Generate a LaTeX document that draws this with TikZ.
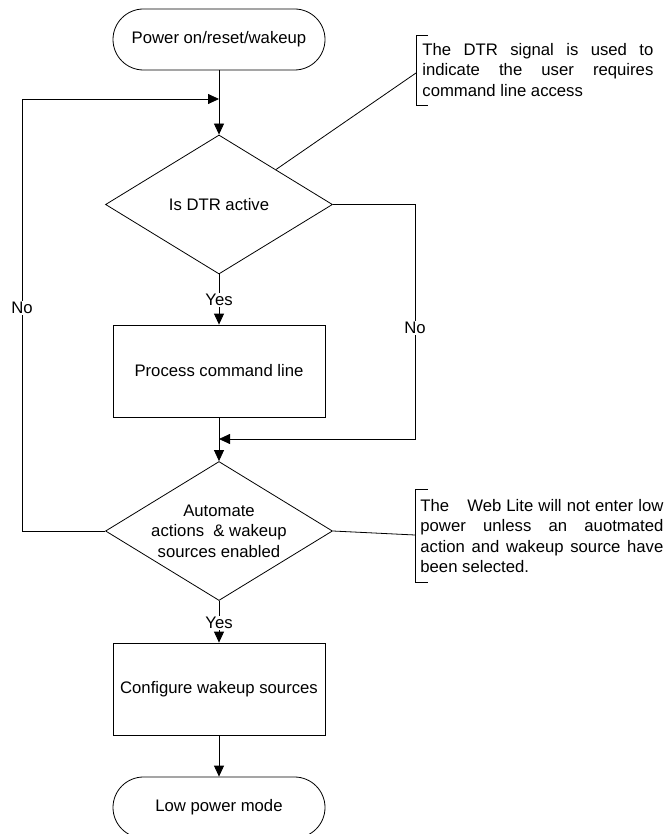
\documentclass[tikz,border=0pt]{standalone}
\usepackage{fontspec}
\setmainfont{Liberation Sans}
\usetikzlibrary{shapes.geometric,shapes.misc,arrows.meta,calc}
\begin{document}
\begin{tikzpicture}[x=1pt,y=-1pt,
  every node/.style={font=\fontsize{16.7}{20.5}\selectfont},
  line width=0.8pt,
  >={Triangle[length=11pt,width=10pt]},
  term/.style={rounded rectangle, draw, minimum width=212pt, minimum height=61pt, inner sep=0pt},
  proc/.style={rectangle, draw, minimum width=212pt, minimum height=92pt, inner sep=0pt},
  dec/.style={diamond, draw, minimum width=227pt, minimum height=139pt, inner sep=0pt},
  lbl/.style={fill=white, inner sep=1.5pt},
  note/.style={align=left, inner sep=0pt, anchor=west}]
\useasboundingbox (0,0) rectangle (667,834);

\node[term] (start) at (219,39.5) {Power on/reset/wakeup};
\node[dec] (d1) at (219,204.5) {Is DTR active};
\node[proc] (p1) at (219,371) {Process command line};
\node[dec, label={[align=center]center:{Automate\\actions\ \ \& wakeup\\sources enabled}}] (d2) at (219,531) {};
\node[proc] (p2) at (219,689) {Configure wakeup sources};
\node[term] (end) at (219,807.5) {Low power mode};

\coordinate (j1) at (219,99);
\coordinate (j2) at (219,439);
\coordinate (lc1) at (22,531);
\coordinate (lc2) at (22,99);
\coordinate (rc1) at (415,204.5);
\coordinate (rc2) at (415,439);

\draw[->] (start.south) -- (d1.north);
\draw[->] (d1.south) -- node[lbl,pos=0.51]{Yes} (p1.north);
\draw[->] (p1.south) -- (d2.north);
\draw[->] (d2.south) -- node[lbl,pos=0.53]{Yes} (p2.north);
\draw[->] (p2.south) -- (end.north);

\draw[->] (d2.west) -- (lc1) -- node[lbl,pos=0.516]{No} (lc2) -- (j1);
\draw[->] (d1.east) -- (rc1) -- node[lbl,pos=0.527]{No} (rc2) -- (j2);

% annotation 1
\coordinate (n1) at ($(d1.north)!0.5!(d1.east)$);
\coordinate (b1) at (416,73);
\draw (n1) -- (b1);
\draw (428,35) -- (416,35) -- (416,105) -- (428,105);
\node[note] (t1) at (422,70) {\makebox[231pt][s]{The DTR signal is used to}\\\makebox[231pt][s]{indicate the user requires}\\command line access};

% annotation 2
\coordinate (b2) at (415,535);
\draw (d2.east) -- (b2);
\draw (428,489) -- (415,489) -- (415,582) -- (428,582);
\node[note] (t2) at (420,536) {\makebox[243pt][s]{The\hspace{13pt} Web Lite will not enter low}\\\makebox[243pt][s]{power unless an auotmated}\\\makebox[243pt][s]{action and wakeup source have}\\been selected.};
\end{tikzpicture}
\end{document}
